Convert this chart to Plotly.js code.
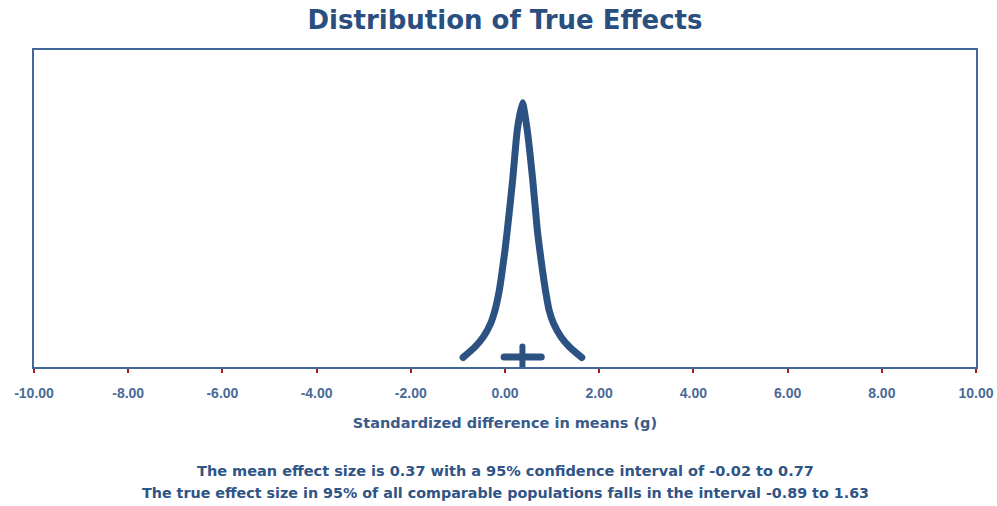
<!DOCTYPE html>
<html>
<head>
<meta charset="utf-8">
<script src="https://cdn.plot.ly/plotly-3.0.1.min.js"></script>
<style>
html, body { margin: 0; padding: 0; background: #ffffff; }
#chart { width: 997px; height: 506px; }
.js-line { stroke-linecap: round !important; stroke-linejoin: round !important; }
</style>
</head>
<body>
<div id="chart"></div>
<script>
// Distribution of true effects (relative density, peak = 1)
const effectX = [-0.89, -0.637, -0.46, -0.304, -0.212, -0.12, -0.057, 0.0, 0.049, 0.163, 0.262, 0.37, 0.47, 0.588, 0.686, 0.738, 0.795, 0.858, 0.936, 1.03, 1.19, 1.37, 1.63];
const density = [0.036, 0.076, 0.114, 0.165, 0.215, 0.291, 0.367, 0.443, 0.518, 0.709, 0.899, 1.0, 0.899, 0.709, 0.518, 0.443, 0.367, 0.291, 0.215, 0.165, 0.114, 0.076, 0.036];

// Mean effect and its 95% confidence interval
const meanEffect = 0.37;
const ciLow = -0.02;
const ciHigh = 0.77;
const ciLevel = 0.038;
const meanTickTop = 0.078;

// Axis ticks
const tickVals = [-10, -8, -6, -4, -2, 0, 2, 4, 6, 8, 10];
const tickText = ["-10.00", "-8.00", "-6.00", "-4.00", "-2.00", "0.00", "2.00", "4.00", "6.00", "8.00", "10.00"];

const lines = [
  "The mean effect size is 0.37 with a 95% confidence interval of -0.02 to 0.77",
  "The true effect size in 95% of all comparable populations falls in the interval -0.89 to 1.63"
];

const curveColor = "#2c5282";
const textFont = "DejaVu Sans, Verdana, sans-serif";

const traces = [
  {
    x: effectX, y: density, type: "scatter", mode: "lines",
    line: { color: curveColor, width: 7, shape: "spline", smoothing: 0.6 },
    hoverinfo: "skip", showlegend: false
  },
  {
    x: [ciLow, ciHigh], y: [ciLevel, ciLevel], type: "scatter", mode: "lines",
    line: { color: curveColor, width: 7 }, hoverinfo: "skip", showlegend: false
  },
  {
    x: [meanEffect, meanEffect], y: [0, meanTickTop], type: "scatter", mode: "lines",
    line: { color: curveColor, width: 6 }, hoverinfo: "skip", showlegend: false
  }
];

const layout = {
  width: 997, height: 506,
  paper_bgcolor: "#ffffff", plot_bgcolor: "#ffffff",
  margin: { l: 34, r: 21, t: 50, b: 139, pad: 0 },
  title: {
    text: "<b>Distribution of True Effects</b>",
    font: { family: textFont, size: 26, color: "#2a4f7f" },
    x: 0.5, xref: "paper", xanchor: "center",
    y: 0.96, yref: "container", yanchor: "middle"
  },
  xaxis: {
    range: [-10, 10], tickvals: tickVals, ticktext: tickText,
    ticks: "outside", ticklen: 4, tickwidth: 2, tickcolor: "#b01818",
    ticklabelstandoff: 8,
    showline: true, linecolor: "#44679a", linewidth: 2, mirror: true,
    showgrid: false, zeroline: false,
    tickfont: { family: "Liberation Sans, Arial, sans-serif", size: 14, color: "#4a6a97", weight: "bold" },
    title: {
      text: "<b>Standardized difference in means (g)</b>",
      font: { family: textFont, size: 14.5, color: "#3a5b8a" },
      standoff: 18
    }
  },
  yaxis: {
    range: [0, 1.2], showticklabels: false, ticks: "",
    showline: true, linecolor: "#44679a", linewidth: 2, mirror: true,
    showgrid: false, zeroline: false
  },
  annotations: [
    {
      text: "<b>" + lines[0] + "</b>", xref: "paper", yref: "paper",
      x: 0.5, y: -0.3265, xanchor: "center", yanchor: "middle", showarrow: false,
      font: { family: textFont, size: 14.5, color: "#2f5486" }
    },
    {
      text: "<b>" + lines[1] + "</b>", xref: "paper", yref: "paper",
      x: 0.5, y: -0.398, xanchor: "center", yanchor: "middle", showarrow: false,
      font: { family: textFont, size: 14.3, color: "#2f5486" }
    }
  ]
};

Plotly.newPlot("chart", traces, layout, { displayModeBar: false, staticPlot: true });
</script>
</body>
</html>
